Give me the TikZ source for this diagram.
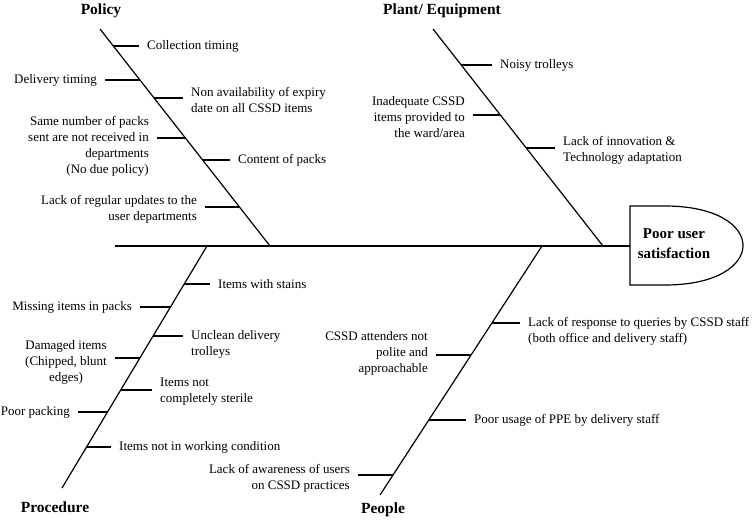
\documentclass[tikz,border=0pt]{standalone}
\usepackage{fontspec}
\setmainfont{Liberation Serif}
\usetikzlibrary{positioning,calc}
\tikzset{
    bone/.style={line width=1.2pt},
    rib/.style={line width=1.2pt},
    cause/.style={font=\fontsize{13}{16}\selectfont, inner xsep=8pt, inner ysep=0pt, align=left, anchor=west},
    causel/.style={cause, align=right, anchor=east},
    category/.style={font=\fontsize{15.5}{18}\selectfont\bfseries, inner sep=0pt},
    effect/.style={font=\fontsize{15}{20}\selectfont\bfseries, inner sep=0pt, align=center}
}
\begin{document}
\begin{tikzpicture}[x=1pt, y=-1pt]
                \useasboundingbox (0,0) rectangle (755,520);
                \coordinate (tail) at (115,246);
                \coordinate (head) at (630,246);
                \coordinate (polA) at (100,29);
                \coordinate (polB) at (270,246);
                \coordinate (pltA) at (433,29);
                \coordinate (pltB) at (603,246);
                \coordinate (proA) at (207,246);
                \coordinate (proB) at (62,488);
                \coordinate (pplA) at (542,246);
                \coordinate (pplB) at (380,495);
                \draw [bone] (tail) -- (head);
                \draw [bone] (polA) -- (polB);
                \draw [bone] (pltA) -- (pltB);
                \draw [bone] (proA) -- (proB);
                \draw [bone] (pplA) -- (pplB);
                \draw [bone] (head) -- (630,206) -- (665,206) .. controls (769,206) and (769,285) .. (665,285) -- (630,285) -- cycle;
                \node [effect] (effect) at (674,244) {Poor user\\satisfaction};
                \node [category] (policy) at (101,11) {Policy};
                \node [category] (plant) at (442,11) {Plant/ Equipment};
                \node [category] (procedure) at (55,507) {Procedure};
                \node [category] (people) at (383,510) {People};
                \coordinate (pol1) at (113.3,46);
                \coordinate (pol2) at (140,80);
                \coordinate (pol3) at (154.1,98);
                \coordinate (pol4) at (185.4,138);
                \coordinate (pol5) at (202.6,160);
                \coordinate (pol6) at (239.4,207);
                \node [cause] (pol1t) at (139,46) {Collection timing};
                \node [causel] (pol2t) at (105,80) {Delivery timing};
                \node [cause] (pol3t) at (183,100) {Non availability of expiry\\date on all CSSD items};
                \node [causel] (pol4t) at (157,146) {Same number of packs\\sent are not received in\\departments\\(No due policy)};
                \node [cause] (pol5t) at (230,160) {Content of packs};
                \node [causel] (pol6t) at (205,209) {Lack of regular updates to the\\user departments};
                \draw [rib] (pol1) -- (pol1 -| pol1t.west);
                \draw [rib] (pol2) -- (pol2 -| pol2t.east);
                \draw [rib] (pol3) -- (pol3 -| pol3t.west);
                \draw [rib] (pol4) -- (pol4 -| pol4t.east);
                \draw [rib] (pol5) -- (pol5 -| pol5t.west);
                \draw [rib] (pol6) -- (pol6 -| pol6t.east);
                \coordinate (plt1) at (461.2,65);
                \coordinate (plt2) at (500.4,115);
                \coordinate (plt3) at (526.2,148);
                \node [cause] (plt1t) at (492,65) {Noisy trolleys};
                \node [causel] (plt2t) at (473,117) {Inadequate CSSD\\items provided to\\the ward/area};
                \node [cause] (plt3t) at (555,150) {Lack of innovation \&\\Technology adaptation};
                \draw [rib] (plt1) -- (plt1 -| plt1t.west);
                \draw [rib] (plt2) -- (plt2 -| plt2t.east);
                \draw [rib] (plt3) -- (plt3 -| plt3t.west);
                \coordinate (pro1) at (184.2,284);
                \coordinate (pro2) at (170.4,307);
                \coordinate (pro3) at (153.1,336);
                \coordinate (pro4) at (139.9,358);
                \coordinate (pro5) at (120.7,390);
                \coordinate (pro6) at (107.5,412);
                \coordinate (pro7) at (86.6,447);
                \node [cause] (pro1t) at (210,284) {Items with stains};
                \node [causel] (pro2t) at (140,307) {Missing items in packs};
                \node [cause] (pro3t) at (183,344) {Unclean delivery\\trolleys};
                \node [causel, align=center] (pro4t) at (115,362) {Damaged items\\(Chipped, blunt\\edges)};
                \node [cause] (pro5t) at (152,392) {Items not\\completely sterile};
                \node [causel] (pro6t) at (78,412) {Poor packing};
                \node [cause] (pro7t) at (111,447) {Items not in working condition};
                \draw [rib] (pro1) -- (pro1 -| pro1t.west);
                \draw [rib] (pro2) -- (pro2 -| pro2t.east);
                \draw [rib] (pro3) -- (pro3 -| pro3t.west);
                \draw [rib] (pro4) -- (pro4 -| pro4t.east);
                \draw [rib] (pro5) -- (pro5 -| pro5t.west);
                \draw [rib] (pro6) -- (pro6 -| pro6t.east);
                \draw [rib] (pro7) -- (pro7 -| pro7t.west);
                \coordinate (ppl1) at (491.9,323);
                \coordinate (ppl2) at (471.1,355);
                \coordinate (ppl3) at (428.8,420);
                \coordinate (ppl4) at (393,475);
                \node [cause] (ppl1t) at (520,331) {Lack of response to queries by CSSD staff\\(both office and delivery staff)};
                \node [causel] (ppl2t) at (436,353) {CSSD attenders not\\polite and\\approachable};
                \node [cause] (ppl3t) at (466,420) {Poor usage of PPE by delivery staff};
                \node [causel] (ppl4t) at (358,478) {Lack of awareness of users\\on CSSD practices};
                \draw [rib] (ppl1) -- (ppl1 -| ppl1t.west);
                \draw [rib] (ppl2) -- (ppl2 -| ppl2t.east);
                \draw [rib] (ppl3) -- (ppl3 -| ppl3t.west);
                \draw [rib] (ppl4) -- (ppl4 -| ppl4t.east);
\end{tikzpicture}
\end{document}
